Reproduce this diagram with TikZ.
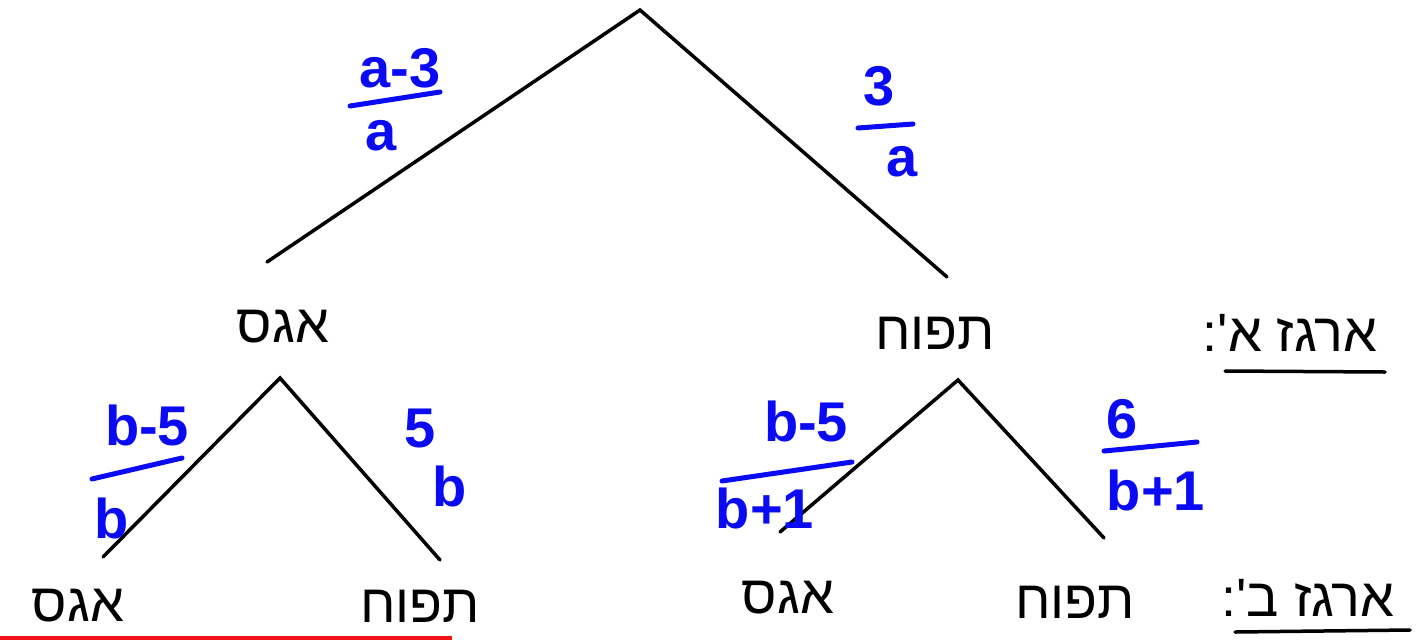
\documentclass[tikz,border=0pt]{standalone}
\usepackage{fontspec}
\setmainfont{Liberation Sans}
\newfontfamily\heb[Script=Hebrew]{Liberation Sans}
\TeXXeTstate=1
\definecolor{inkblue}{RGB}{10,10,245}
\definecolor{inkred}{RGB}{240,20,20}
\tikzset{
  edge/.style={line width=3.5pt, black, line cap=round},
  bar/.style={line width=5pt, inkblue, line cap=round},
  uline/.style={line width=3.5pt, black, line cap=round},
  word/.style={inner sep=0pt, font=\heb\fontsize{54}{58}\selectfont},
  frac/.style={inner sep=0pt, text=inkblue, font=\bfseries\fontsize{56}{60}\selectfont},
}
\begin{document}
\begin{tikzpicture}[x=1pt,y=-1pt]
\useasboundingbox (0,0) rectangle (1423,641);
\fill[white] (0,0) rectangle (1423,641);
% tree points
\coordinate (root) at (640,10);
\coordinate (A) at (267,262);
\coordinate (B) at (947,277);
\coordinate (A0) at (280,378);
\coordinate (A1) at (103,557);
\coordinate (A2) at (440,560);
\coordinate (B0) at (958,380);
\coordinate (B1) at (780,532);
\coordinate (B2) at (1104,538);
\draw[edge] (A) -- (root) -- (B);
\draw[edge] (A1) -- (A0) -- (A2);
\draw[edge] (B1) -- (B0) -- (B2);
% level 1 words
\node[word] (wA) at (283,327) {\beginR אגס\endR};
\node[word] (wB) at (935,333) {\beginR תפוח\endR};
\node[word] (boxA) at (1290,333) {\beginR ארגז א':\endR};
\coordinate (ua1) at (1225,371); \coordinate (ua2) at (1385,372);
\draw[uline] (ua1) -- (ua2);
% leaves
\node[word] (l1) at (78,606) {\beginR אגס\endR};
\node[word] (l2) at (420,606) {\beginR תפוח\endR};
\node[word] (l3) at (788,598) {\beginR אגס\endR};
\node[word] (l4) at (1075,602) {\beginR תפוח\endR};
\node[word] (boxB) at (1308,598) {\beginR ארגז ב':\endR};
\coordinate (ub1) at (1235,632); \coordinate (ub2) at (1410,630);
\draw[uline] (ub1) -- (ub2);
\coordinate (r1) at (0,638); \coordinate (r2) at (452,638);
\draw[line width=3.5pt, inkred] (r1) -- (r2);
% probabilities
\node[frac] (p1n) at (400,68) {a-3};
\coordinate (p1a) at (350,106); \coordinate (p1b) at (440,92);
\draw[bar] (p1a) -- (p1b);
\node[frac] (p1d) at (381,136) {a};
\node[frac] (p2n) at (879,86) {3};
\coordinate (p2a) at (858,128); \coordinate (p2b) at (913,124);
\draw[bar] (p2a) -- (p2b);
\node[frac] (p2d) at (902,162) {a};
\node[frac] (p3n) at (147,425) {b-5};
\coordinate (p3a) at (92,479); \coordinate (p3b) at (182,458);
\draw[bar] (p3a) -- (p3b);
\node[frac] (p3d) at (112,518) {b};
\node[frac] (p4n) at (420,428) {5};
\node[frac] (p4d) at (450,486) {b};
\node[frac] (p5n) at (806,421) {b-5};
\coordinate (p5a) at (722,481); \coordinate (p5b) at (852,462);
\draw[bar] (p5a) -- (p5b);
\node[frac] (p5d) at (765,508) {b+1};
\node[frac] (p6n) at (1122,419) {6};
\coordinate (p6a) at (1104,451); \coordinate (p6b) at (1197,442);
\draw[bar] (p6a) -- (p6b);
\node[frac] (p6d) at (1156,490) {b+1};
\end{tikzpicture}
\end{document}
